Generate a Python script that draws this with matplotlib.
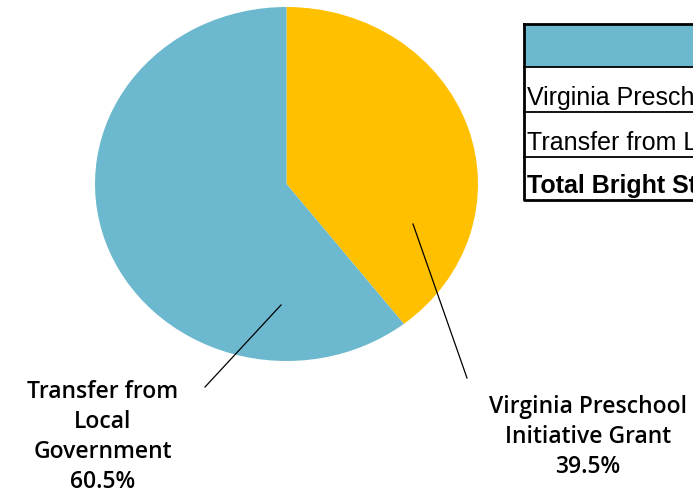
import numpy as np
import matplotlib.pyplot as plt
from matplotlib.patches import Rectangle

# dados do gráfico
categorias = ['Virginia Preschool\nInitiative Grant', 'Transfer from\nLocal\nGovernment']
percentuais = [39.5, 60.5]
cores = ['#FFC000', '#6CB8CE']
# a tabela aparece cortada na borda direita da imagem
linhas_tabela = ['Virginia Presch', 'Transfer from L', 'Total Bright St']

W, H = 693, 493
fig = plt.figure(figsize=(W / 100, H / 100), dpi=100)

# camada de fundo em pixels para a tabela
fundo = fig.add_axes([0, 0, 1, 1])
fundo.set_xlim(0, W)
fundo.set_ylim(H, 0)
fundo.axis('off')

esq, topo, base = 524, 24, 200
fundo.add_patch(Rectangle((esq, topo), 400, 43, facecolor='#6CB8CE', edgecolor='none'))
ys = [67, 112, 157, base]
for y in ys[:-1]:
    fundo.plot([esq, W + 10], [y, y], color='black', lw=1.3, clip_on=False)
fundo.plot([esq, W + 10, W + 10, esq, esq], [topo, topo, base, base, topo],
           color='black', lw=2, clip_on=False)
for i, texto in enumerate(linhas_tabela):
    fundo.text(esq + 3, ys[i + 1] - 7, texto, fontsize=18, family='Liberation Sans',
               fontweight='bold' if i == 2 else 'normal', va='baseline', ha='left')

# pizza (ligeiramente elíptica)
ax = fig.add_axes([95 / W, 1 - 361 / H, 383 / W, 354 / H])
ax.pie(percentuais, colors=cores, startangle=90, counterclock=False, radius=1,
       wedgeprops=dict(linewidth=0))
ax.set_aspect('auto')
ax.set_xlim(-1, 1)
ax.set_ylim(-1, 1)

def px(x, y):
    return (x - 286.5) / 191.5, (184 - y) / 177

# linhas de chamada e rótulos
chamadas = [((413, 224), (467, 378), (588, 437)), ((281, 305), (205, 387), (103, 437))]
for (a, b, t), cat, pct in zip(chamadas, categorias, percentuais):
    x0, y0 = px(*a)
    x1, y1 = px(*b)
    ax.plot([x0, x1], [y0, y1], color='black', lw=0.9, clip_on=False)
    tx, ty = px(*t)
    ax.text(tx, ty, f'{cat}\n{pct:.1f}%', ha='center', va='center', fontsize=16.5,
            family='Open Sans', fontweight='semibold', linespacing=1.32, clip_on=False)

fig.savefig('out.png', dpi=100)
